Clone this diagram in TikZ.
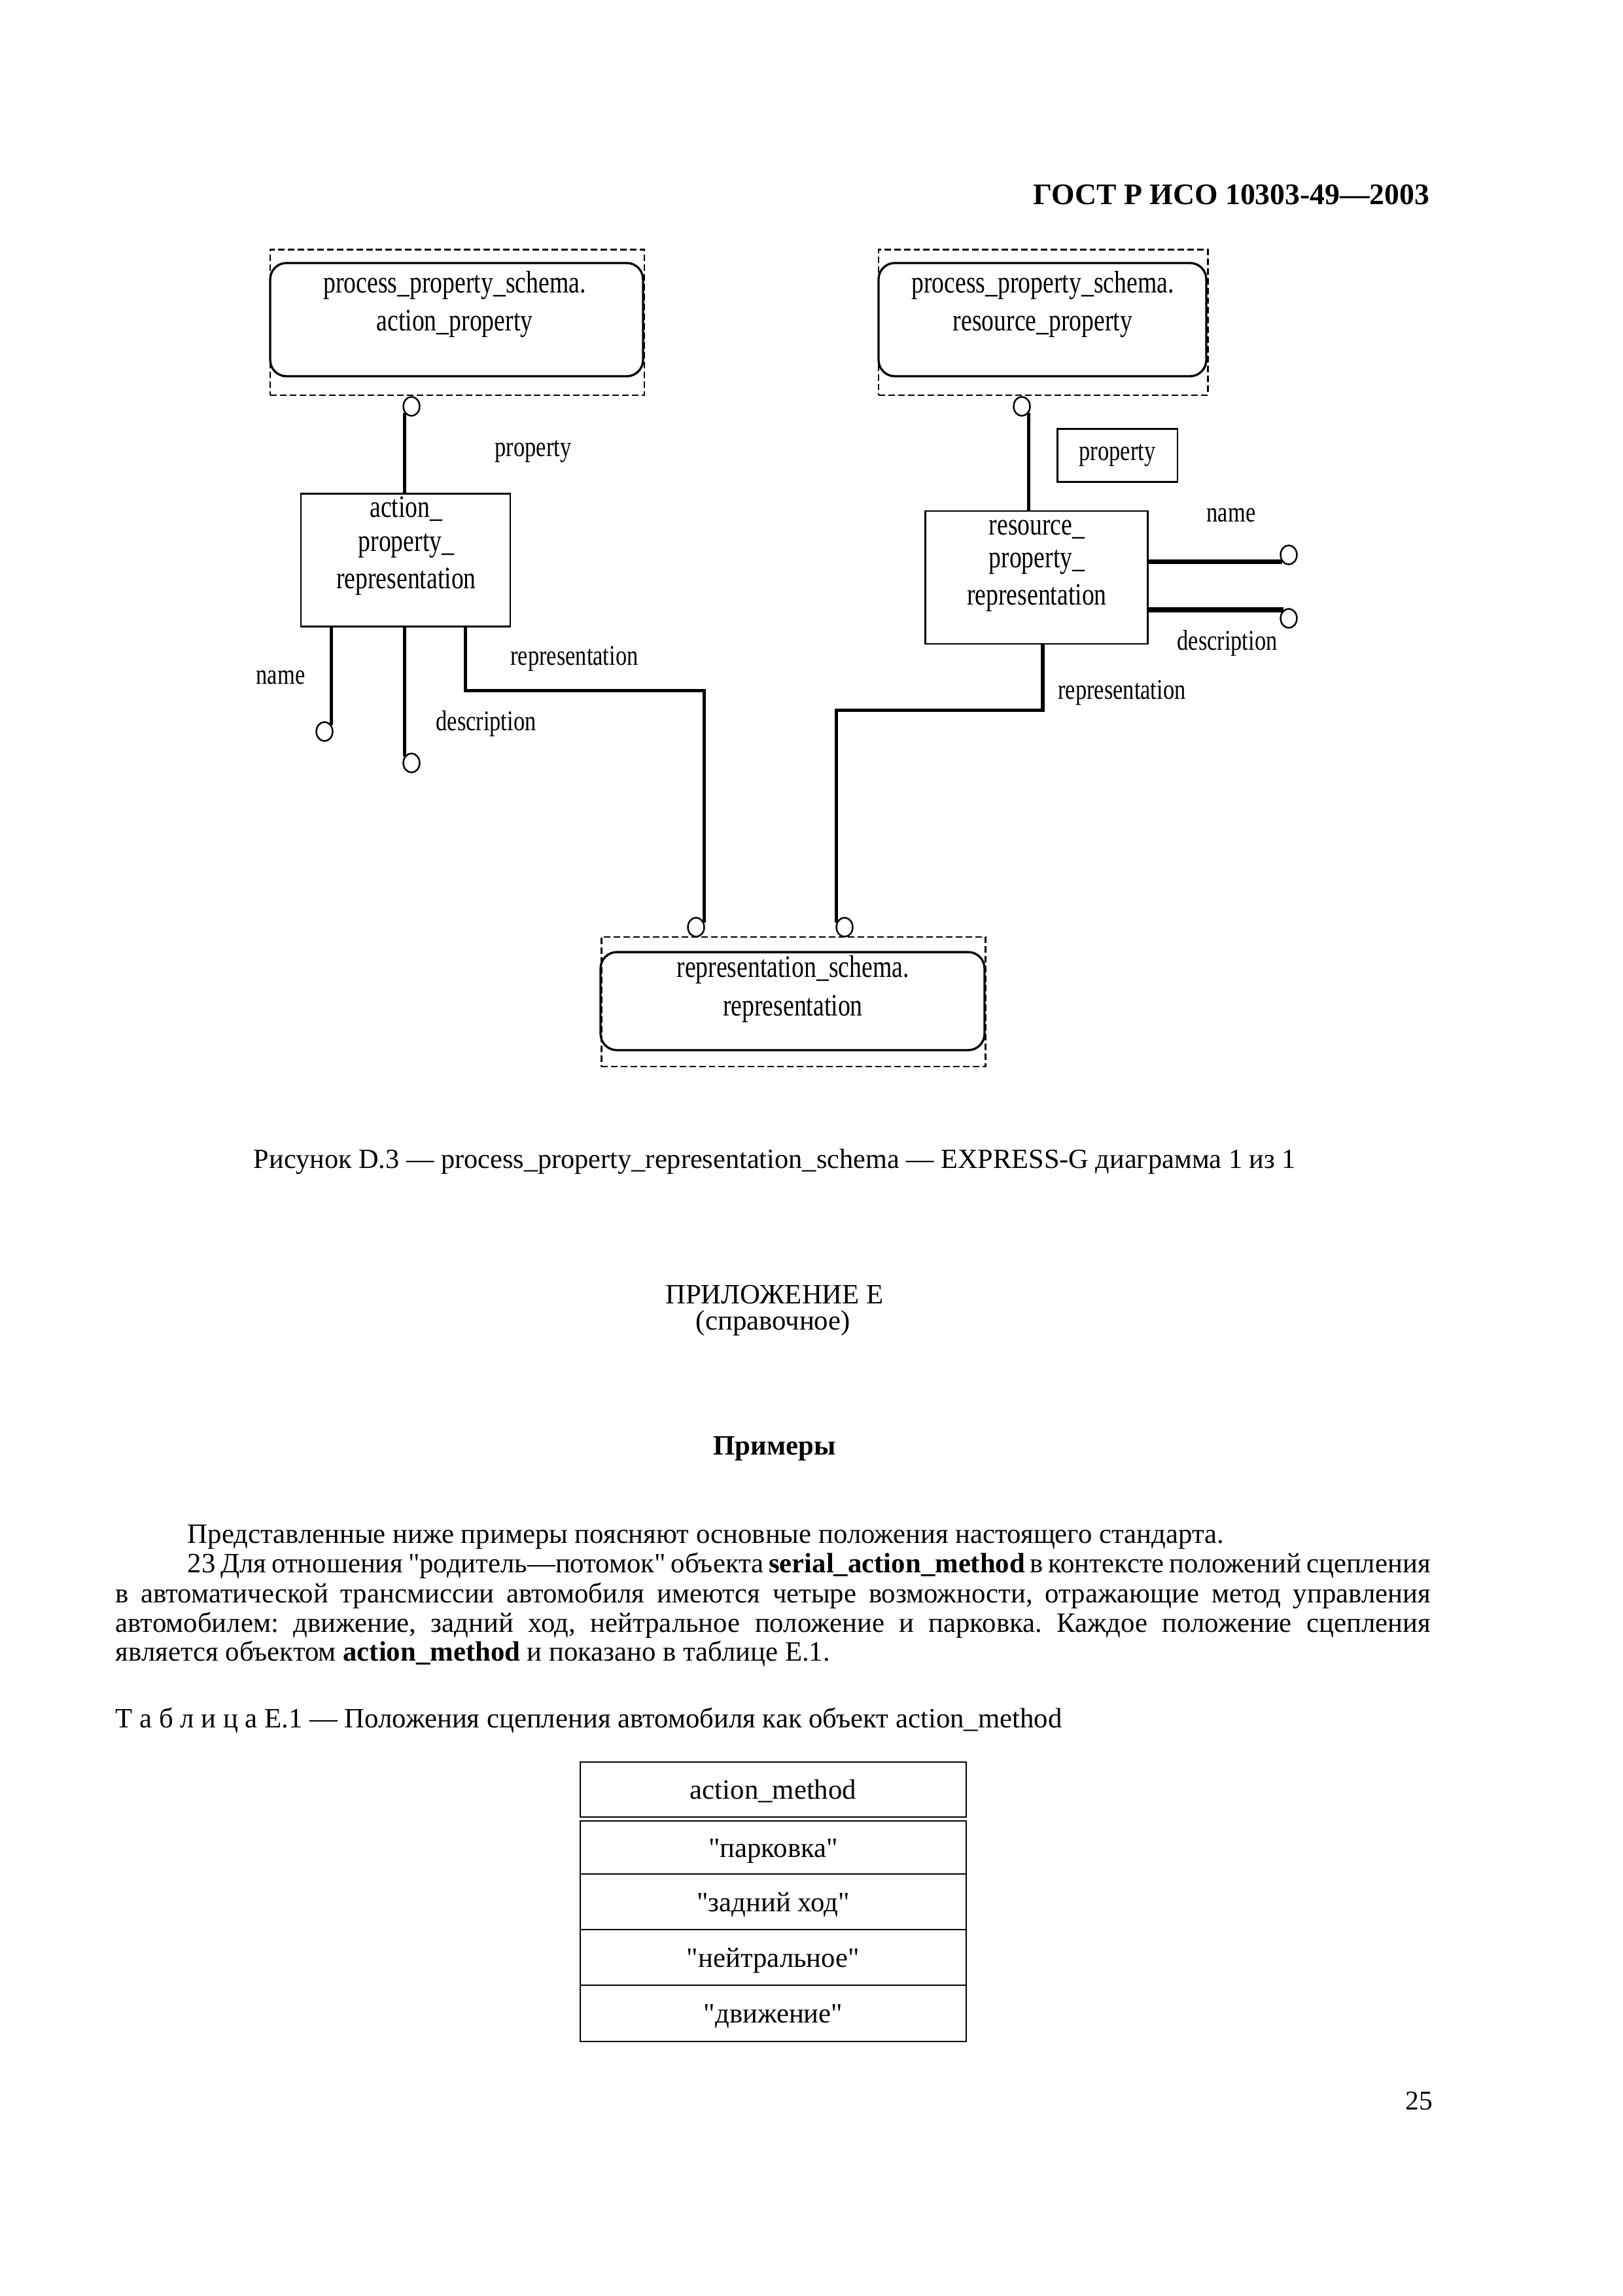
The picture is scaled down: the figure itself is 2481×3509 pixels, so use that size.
\documentclass[tikz,border=0pt]{standalone}
\usepackage{fontspec}
\setmainfont{Liberation Serif}[Ligatures=TeXOff]
\newfontfamily\dgfont[FakeStretch=0.79]{Liberation Serif}
\usetikzlibrary{shapes.geometric,calc}
\frenchspacing
\begin{document}
\begin{tikzpicture}[x=0.2409pt,y=-0.2409pt,
  dbox/.style={draw, dash pattern=on 2.4pt off 1.2pt, line width=0.7pt, inner sep=0},
  rbox/.style={draw, rounded corners=6pt, line width=0.8pt, inner sep=0},
  ebox/.style={draw, line width=0.7pt, inner sep=0},
  oc/.style={draw, ellipse, line width=0.6pt, minimum width=6pt, minimum height=7pt, inner sep=0},
  conn/.style={line width=1.3pt},
  thk/.style={line width=1.8pt},
  dtext/.style={font=\dgfont\fontsize{11.5}{13}\selectfont, inner sep=0, anchor=base},
  dlabel/.style={font=\dgfont\fontsize{10.5}{12}\selectfont, inner sep=0, anchor=base},
  body/.style={font=\fontsize{10.3}{12}\selectfont, inner sep=0},
  cell/.style={draw, line width=0.6pt, minimum width=142.1pt, inner sep=0, text height=9pt, text depth=2pt, font=\fontsize{10.3}{12}\selectfont}
]
\useasboundingbox (0,0) rectangle (2481,3509);

% header
\node[font=\bfseries\fontsize{11}{13}\selectfont, anchor=base east, inner sep=0] (hdr) at (2186,312) {ГОСТ Р ИСО 10303-49—2003};

% ---- top-left schema box
\node[dbox, minimum width=137.8pt, minimum height=53.7pt] (db1) at (699,492.5) {};
\node[rbox, minimum width=137.3pt, minimum height=41.7pt] (rb1) at (698,488.5) {};
\node[dtext] (t1a) at (695,447) {process\_property\_schema.};
\node[dtext] (t1b) at (695,505) {action\_property};
\node[oc] (c1) at (629,621) {};

% ---- top-right schema box
\node[dbox, minimum width=121.2pt, minimum height=53.7pt] (db2) at (1594.5,492.5) {};
\node[rbox, minimum width=120.7pt, minimum height=41.7pt] (rb2) at (1593.5,488.5) {};
\node[dtext] (t2a) at (1594,447) {process\_property\_schema.};
\node[dtext] (t2b) at (1594,505) {resource\_property};
\node[oc] (c2) at (1562,621) {};

% ---- action_property_representation
\node[ebox, minimum width=77.1pt, minimum height=48.7pt] (ap) at (620,856) {};
\node[dtext] (ap1) at (621,790) {action\_};
\node[dtext] (ap2) at (621,842) {property\_};
\node[dtext] (ap3) at (621,899) {representation};

% ---- resource_property_representation
\node[ebox, minimum width=82.1pt, minimum height=48.9pt] (rp) at (1584.5,882.5) {};
\node[dtext] (rp1) at (1585,817) {resource\_};
\node[dtext] (rp2) at (1585,867) {property\_};
\node[dtext] (rp3) at (1585,924) {representation};

% property box (right)
\node[ebox, minimum width=44.3pt, minimum height=19.3pt, font=\dgfont\fontsize{10.5}{12}\selectfont] (pb) at (1708,696) {property};

% ---- bottom schema box
\node[dbox, minimum width=141.6pt, minimum height=47.7pt] (db3) at (1213,1531) {};
\node[rbox, minimum width=141.4pt, minimum height=36.1pt] (rb3) at (1211.5,1530) {};
\node[dtext] (t3a) at (1212,1493) {representation\_schema.};
\node[dtext] (t3b) at (1212,1552) {representation};
\node[oc] (cL) at (1064,1417) {};
\node[oc] (cR) at (1291,1417) {};

% attribute circles
\node[oc] (cN1) at (496,1118) {};
\node[oc] (cD1) at (629,1166) {};
\node[oc] (cN2) at (1970,848) {};
\node[oc] (cD2) at (1970,945) {};

% labels
\node[dlabel] (lp) at (815,697) {property};
\node[dlabel] (ln1) at (429,1045) {name};
\node[dlabel] (ld1) at (743,1116) {description};
\node[dlabel] (lr1) at (878,1016) {representation};
\node[dlabel] (ln2) at (1882,797) {name};
\node[dlabel] (ld2) at (1876,993) {description};
\node[dlabel] (lr2) at (1715,1068) {representation};

% connectors
\draw[conn] (c1.225) -- (c1.225 |- ap.north);
\draw[conn] (c2.-45) -- (c2.-45 |- rp.north);
\draw[conn] (cN1.45 |- ap.south) -- (cN1.45);
\draw[conn] (cD1.135 |- ap.south) -- (cD1.135);
\draw[conn] ($(ap.south west)!0.784!(ap.south east)$) -- ++(0,97) -| (cL.30);
\draw[conn] ($(rp.south west)!0.528!(rp.south east)$) -- ++(0,100) -| (cR.150);
\draw[thk] (rp.east |- cN2.225) -- (cN2.225);
\draw[thk] (rp.east |- cD2.120) -- (cD2.120);

% caption
\node[body, anchor=base west, font=\fontsize{10.2}{12}\selectfont] (cap) at (387,1785) {Рисунок D.3 — process\_property\_representation\_schema — EXPRESS-G диаграмма 1 из 1};

% annex title
\node[body, anchor=base] (ann) at (1184,1992) {ПРИЛОЖЕНИЕ Е};
\node[body, anchor=base] (ann2) at (1182,2032) {(справочное)};
\node[body, anchor=base, font=\bfseries\fontsize{10.3}{12}\selectfont] (ex) at (1184,2223) {Примеры};

% body text
\node[body, anchor=base west] (p1) at (286,2358) {Представленные ниже примеры поясняют основные положения настоящего стандарта.};
\node[body, anchor=base west] (p2) at (286,2403) {\makebox[457.7pt][s]{23 Для отношения "родитель—потомок" объекта \textbf{serial\_action\_method} в контексте положений сцепления}};
\node[body, anchor=base west] (p3) at (176,2449) {\makebox[484.2pt][s]{в автоматической трансмиссии автомобиля имеются четыре возможности, отражающие метод управления}};
\node[body, anchor=base west] (p4) at (176,2494) {\makebox[484.2pt][s]{автомобилем: движение, задний ход, нейтральное положение и парковка. Каждое положение сцепления}};
\node[body, anchor=base west] (p5) at (176,2538) {является объектом \textbf{action\_method} и показано в таблице Е.1.};

% table caption
\node[body, anchor=base west] (tc) at (176,2640) {Т а б л и ц а Е.1 — Положения сцепления автомобиля как объект action\_method};

% table
\node[cell, minimum height=20.24pt] (th) at (1182,2735) {action\_method};
\node[cell, minimum height=19.5pt] (r1) at (1182,2823.5) {"парковка"};
\node[cell, minimum height=20.48pt] (r2) at (1182,2906.5) {"задний ход"};
\node[cell, minimum height=20.48pt] (r3) at (1182,2991.5) {"нейтральное"};
\node[cell, minimum height=20.7pt] (r4) at (1182,3077) {"движение"};

% page number
\node[body, anchor=base west, font=\fontsize{10}{12}\selectfont] (pg) at (2148,3224) {25};
\end{tikzpicture}
\end{document}
